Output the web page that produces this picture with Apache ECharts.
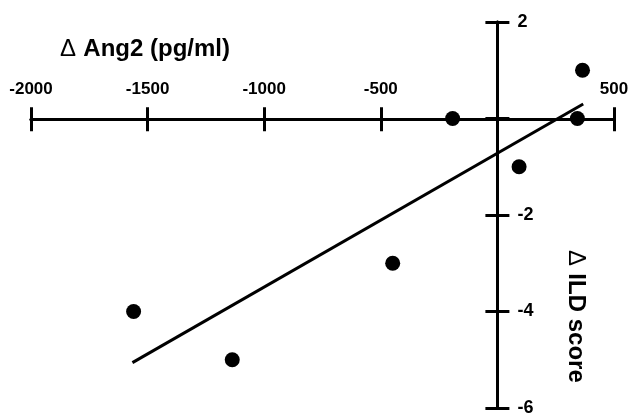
<!DOCTYPE html>
<html><head><meta charset="utf-8">
<script src="https://cdn.jsdelivr.net/npm/echarts@6/dist/echarts.min.js"></script>
<style>html,body{margin:0;padding:0;background:#fff}#c{width:632px;height:417px}</style>
</head><body><div id="c"></div>
<script>
const angX = [-1560, -1137, -449, -192, 93, 343, 365];
const ildY = [-4, -5, -3, 0, -1, 0, 1];
const fitX = [-1565, 368];
const fitY = [-5.06, 0.3];
const xTicks = [-2000, -1500, -1000, -500, 0, 500];
const yTicks = [-6, -4, -2, 0, 2];
const xNameSym = 'Δ', xNameText = 'Ang2 (pg/ml)';
const yNameSym = 'Δ', yNameText = 'ILD score';

const FONT = '"Liberation Sans", Arial, sans-serif';
const G = {left: 31, right: 18, top: 22, bottom: 6};
const W = 632, H = 417;
const gw = W - G.left - G.right, gh = H - G.top - G.bottom;
const xMin = xTicks[0], xMax = xTicks[xTicks.length - 1];
const yMin = yTicks[0], yMax = yTicks[yTicks.length - 1];
const xOff = -gh * (yMax - 0) / (yMax - yMin);   // move x axis down to y=0
const yOff = -gw * (0 - xMin) / (xMax - xMin);   // move y axis right to x=0

const chart = echarts.init(document.getElementById('c'), null, {renderer: 'canvas'});
const lineStyle = {color: '#000', width: 3};
function xAxisDef(inside, showLabel) {
  return {
    type: 'value', min: xMin, max: xMax, interval: 500,
    position: 'top', offset: xOff,
    axisLine: {onZero: false, lineStyle: lineStyle},
    axisTick: {show: true, inside: inside, length: 12, lineStyle: lineStyle},
    splitLine: {show: false},
    axisLabel: {show: showLabel, margin: 21, color: '#000', fontFamily: FONT, fontWeight: 'bold', fontSize: 17,
      formatter: v => v === 0 ? '' : String(v)}
  };
}
function yAxisDef(inside, showLabel) {
  return {
    type: 'value', min: yMin, max: yMax, interval: 2,
    position: 'left', offset: yOff,
    axisLine: {onZero: false, lineStyle: lineStyle},
    axisTick: {show: true, inside: inside, length: 12, lineStyle: lineStyle},
    splitLine: {show: false},
    axisLabel: {show: showLabel, inside: true, margin: 20, color: '#000', fontFamily: FONT, fontWeight: 'bold', fontSize: 18,
      formatter: v => v === 0 ? '' : String(v)}
  };
}
const nameRich = {
  s: {fontFamily: FONT, fontWeight: 'normal', fontSize: 24, fill: '#000', padding: [0, 4, 0, 0]},
  b: {fontFamily: FONT, fontWeight: 'bold', fontSize: 24, fill: '#000'}
};
chart.setOption({
  animation: false,
  grid: {left: G.left, right: G.right, top: G.top, bottom: G.bottom, containLabel: false},
  xAxis: [xAxisDef(false, true), xAxisDef(true, false)],
  yAxis: [yAxisDef(false, true), yAxisDef(true, false)],
  graphic: [
    {type: 'text', x: 60, y: 49,
      style: {text: '{s|' + xNameSym + '} {b|' + xNameText + '}', rich: nameRich, verticalAlign: 'middle', align: 'left'}},
    {type: 'text', x: 576, y: 250, rotation: -Math.PI / 2,
      style: {text: '{s|' + yNameSym + '} {b|' + yNameText + '}', rich: nameRich, verticalAlign: 'middle', align: 'left'}}
  ],
  series: [
    {type: 'line', xAxisIndex: 0, yAxisIndex: 0, data: fitX.map((x, i) => [x, fitY[i]]),
      symbol: 'none', lineStyle: {color: '#000', width: 3}},
    {type: 'scatter', xAxisIndex: 0, yAxisIndex: 0, data: angX.map((x, i) => [x, ildY[i]]),
      symbol: 'circle', symbolSize: 15, itemStyle: {color: '#000', opacity: 1}}
  ]
});
</script></body></html>
